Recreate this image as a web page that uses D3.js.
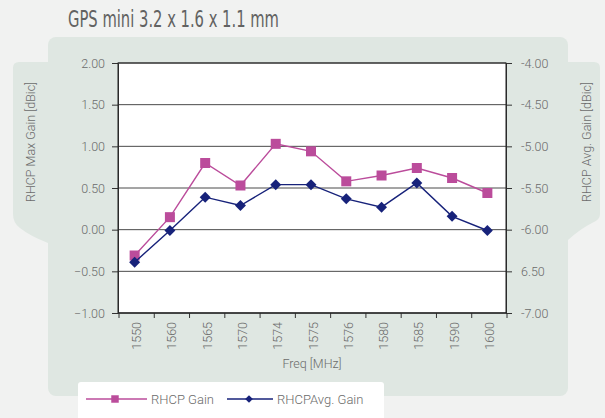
<!DOCTYPE html>
<html>
<head>
<meta charset="utf-8">
<script src="https://cdn.jsdelivr.net/npm/d3@7"></script>
<style>
  html, body { margin: 0; padding: 0; background: #f1f2f1; }
  svg { display: block; font-family: Roboto, 'Liberation Sans', sans-serif; }
</style>
</head>
<body>
<div id="chart"></div>
<script>
// Data
const freqs = ['1550', '1560', '1565', '1570', '1574', '1575', '1576', '1580', '1585', '1590', '1600'];
const rhcp_gain = [-0.31, 0.15, 0.80, 0.53, 1.03, 0.94, 0.58, 0.65, 0.74, 0.62, 0.44];
const rhcp_avg_gain = [-6.39, -6.01, -5.61, -5.71, -5.46, -5.46, -5.63, -5.73, -5.44, -5.84, -6.01];
const left_ticks = [2, 1.5, 1, 0.5, 0, -0.5, -1];
const right_ticks = [-4, -4.5, -5, -5.5, -6, -6.5, -7];
const right_tick_labels = ['-4.00', '-4.50', '-5.00', '-5.50', '-6.00', '6.50', '-7.00'];

const pink = '#bb4c9b';
const navy = '#17227a';
const text_color = '#6b6b6b';
const panel_color = '#dfe7e2';

const width = 605, height = 418;
const margin = {left: 118, right: 99, top: 63, bottom: 105};
const plot_width = width - margin.left - margin.right;
const plot_height = height - margin.top - margin.bottom;

const svg = d3.select('#chart').append('svg')
    .attr('width', width)
    .attr('height', height);

// Background panel with side tabs
svg.append('rect').attr('width', width).attr('height', height).attr('fill', '#f1f2f1');
svg.append('path')
    .attr('d', 'M13,68 Q13,62 19,62 L48,62 L48,218 L48,243 Q30,236 20,228 Q13,223 13,214 Z')
    .attr('fill', panel_color);
svg.append('path')
    .attr('d', 'M568,62 L594,62 Q600,62 600,68 L600,214 Q600,220 592,223 Q580,229 568,240 Z')
    .attr('fill', panel_color);
svg.append('rect')
    .attr('x', 48).attr('y', 37)
    .attr('width', 520).attr('height', 359)
    .attr('rx', 8)
    .attr('fill', panel_color);

// Title
svg.append('text')
    .attr('x', 68).attr('y', 27)
    .attr('textLength', 211)
    .attr('lengthAdjust', 'spacingAndGlyphs')
    .style('font-family', "'DejaVu Sans Condensed', 'Liberation Sans Narrow', sans-serif")
    .style('font-size', '23px')
    .style('fill', '#626262')
    .text('GPS mini 3.2 x 1.6 x 1.1 mm');

const g = svg.append('g').attr('transform', `translate(${margin.left},${margin.top})`);

const x_scale = d3.scaleBand().domain(freqs).range([1, plot_width + 1]);
const y_left = d3.scaleLinear().domain([-1, 2]).range([plot_height, 0]);
const y_right = d3.scaleLinear().domain([-7, -4]).range([plot_height, 0]);

g.append('rect')
    .attr('width', plot_width).attr('height', plot_height)
    .attr('fill', '#fff');

// Gridlines
g.append('g')
    .selectAll('line')
    .data(left_ticks)
    .enter()
    .append('line')
    .attr('x1', 0).attr('x2', plot_width)
    .attr('y1', d => y_left(d)).attr('y2', d => y_left(d))
    .style('stroke', '#4a4a4a')
    .style('stroke-width', 1);

// Left axis
const y_axis_left = d3.axisLeft(y_left)
    .tickValues(left_ticks)
    .tickFormat(d3.format('.2f'))
    .tickSizeInner(6).tickSizeOuter(0).tickPadding(7);
const gl = g.append('g').attr('class', 'y axis').call(y_axis_left);

// Right axis
const y_axis_right = d3.axisRight(y_right)
    .tickValues(right_ticks)
    .tickFormat((d, i) => right_tick_labels[i])
    .tickSizeInner(6).tickSizeOuter(0).tickPadding(9);
const gr = g.append('g').attr('class', 'y axis')
    .attr('transform', `translate(${plot_width},0)`)
    .call(y_axis_right);

// Bottom axis: ticks on band boundaries
const gx = g.append('g').attr('transform', `translate(0,${plot_height})`);
gx.append('line').attr('x1', 0).attr('x2', plot_width + 1).style('stroke', '#333');
gx.selectAll('line.tick')
    .data(freqs.concat(['end']))
    .enter()
    .append('line')
    .attr('class', 'tick')
    .attr('x1', (d, i) => i < freqs.length ? x_scale(d) : x_scale(freqs[freqs.length - 1]) + x_scale.bandwidth())
    .attr('x2', (d, i) => i < freqs.length ? x_scale(d) : x_scale(freqs[freqs.length - 1]) + x_scale.bandwidth())
    .attr('y1', 0).attr('y2', 5)
    .style('stroke', '#333');
gx.selectAll('text')
    .data(freqs)
    .enter()
    .append('text')
    .attr('transform', d => `translate(${x_scale(d) + x_scale.bandwidth() / 2 + 4.5},9)rotate(-90)`)
    .style('text-anchor', 'end')
    .style('font-size', '12.5px')
    .style('font-weight', 300)
    .style('fill', text_color)
    .text(d => d);

[gl, gr].forEach(a => {
    a.select('.domain').style('stroke', '#333');
    a.selectAll('.tick line').style('stroke', '#333');
    a.selectAll('.tick text')
        .style('font-size', '12.5px')
        .style('font-weight', 300)
        .style('font-family', 'Roboto, sans-serif')
        .style('fill', text_color);
});

// Plot frame
g.append('rect')
    .attr('width', plot_width).attr('height', plot_height)
    .attr('fill', 'none')
    .style('stroke', '#222').style('stroke-width', 1);

// Series
const cx = d => x_scale(d) + x_scale.bandwidth() / 2 - 2;

const line_left = d3.line().x((d, i) => cx(freqs[i])).y(d => y_left(d));
const line_right = d3.line().x((d, i) => cx(freqs[i])).y(d => y_right(d));

g.append('path').datum(rhcp_gain)
    .attr('d', line_left)
    .attr('fill', 'none').style('stroke', pink).style('stroke-width', 1.4);
g.selectAll('rect.sq')
    .data(rhcp_gain)
    .enter()
    .append('rect')
    .attr('class', 'sq')
    .attr('x', (d, i) => cx(freqs[i]) - 5)
    .attr('y', d => y_left(d) - 5)
    .attr('width', 10).attr('height', 10)
    .attr('fill', pink);

g.append('path').datum(rhcp_avg_gain)
    .attr('d', line_right)
    .attr('fill', 'none').style('stroke', navy).style('stroke-width', 1.4);
g.selectAll('path.dm')
    .data(rhcp_avg_gain)
    .enter()
    .append('path')
    .attr('class', 'dm')
    .attr('transform', (d, i) => `translate(${cx(freqs[i])},${y_right(d)})rotate(45)`)
    .attr('d', d3.symbol().type(d3.symbolSquare).size(60))
    .attr('fill', navy);

// Axis titles
svg.append('text')
    .attr('transform', `translate(35,${142})rotate(-90)`)
    .style('text-anchor', 'middle')
    .style('font-size', '12.5px').style('font-weight', 300)
    .style('fill', text_color)
    .text('RHCP Max Gain [dBic]');
svg.append('text')
    .attr('transform', `translate(591,${142})rotate(-90)`)
    .style('text-anchor', 'middle')
    .style('font-size', '12.5px').style('font-weight', 300)
    .style('fill', text_color)
    .text('RHCP Avg. Gain [dBic]');
svg.append('text')
    .attr('x', margin.left + plot_width / 2).attr('y', 368)
    .style('text-anchor', 'middle')
    .style('font-size', '12.5px').style('font-weight', 300)
    .style('fill', text_color)
    .text('Freq [MHz]');

// Legend
svg.append('rect')
    .attr('x', 78).attr('y', 382)
    .attr('width', 306).attr('height', 40)
    .attr('rx', 3)
    .attr('fill', '#fff');
const legend = [
    {label: 'RHCP Gain', color: pink, x: 86, len: 61, shape: 'square'},
    {label: 'RHCPAvg. Gain', color: navy, x: 227, len: 46, shape: 'diamond'}
];
const lg = svg.selectAll('g.legend')
    .data(legend)
    .enter()
    .append('g')
    .attr('class', 'legend')
    .attr('transform', d => `translate(${d.x},399)`);
lg.append('line')
    .attr('x1', 0).attr('x2', d => d.len)
    .style('stroke', d => d.color).style('stroke-width', 1.4);
lg.append('path')
    .attr('transform', d => d.shape === 'square' ? 'translate(29,0)' : 'translate(22,0)rotate(45)')
    .attr('d', d => d3.symbol().type(d3.symbolSquare).size(d.shape === 'square' ? 56 : 30)())
    .attr('fill', d => d.color);
lg.append('text')
    .attr('x', d => d.len + 4)
    .attr('y', 4.5)
    .style('font-size', '13px').style('font-weight', 300)
    .style('fill', text_color)
    .text(d => d.label);
</script>
</body>
</html>
